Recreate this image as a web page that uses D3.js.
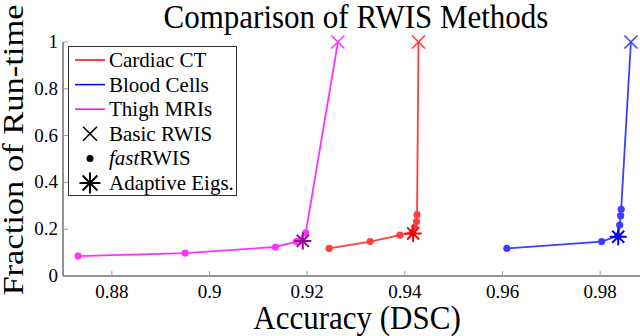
<!DOCTYPE html>
<html><head><meta charset="utf-8">
<script src="https://cdn.jsdelivr.net/npm/d3@7"></script>
<style>body{margin:0;background:#fff}svg{display:block}text{font-family:"Liberation Serif","Times New Roman",serif;fill:#000}</style>
</head><body><svg id="c" width="640" height="336"></svg>
<script>
const xTicks = [0.88, 0.9, 0.92, 0.94, 0.96, 0.98];
const xTickLabels = ["0.88", "0.9", "0.92", "0.94", "0.96", "0.98"];
const yTicks = [0, 0.2, 0.4, 0.6, 0.8, 1];
const yTickLabels = ["0", "0.2", "0.4", "0.6", "0.8", "1"];
const seriesNames = ["Cardiac CT", "Blood Cells", "Thigh MRIs"];
// fastRWIS points (line passes through them), last point = Basic RWIS
const cardiacAcc  = [0.9245, 0.9329, 0.9390, 0.9415, 0.9420, 0.9424, 0.9425, 0.9428];
const cardiacFrac = [0.118, 0.147, 0.175, 0.185, 0.208, 0.233, 0.262, 1.0];
const bloodAcc    = [0.9609, 0.9803, 0.9836, 0.9840, 0.9842, 0.9843, 0.9863];
const bloodFrac   = [0.118, 0.147, 0.172, 0.218, 0.258, 0.285, 1.0];
const thighAcc    = [0.8731, 0.8950, 0.9135, 0.9178, 0.9197, 0.9263];
const thighFrac   = [0.085, 0.098, 0.124, 0.147, 0.184, 1.0];
// Adaptive Eigs. points
const adaptiveAcc  = [0.9417, 0.9837, 0.9191];
const adaptiveFrac = [0.182, 0.168, 0.150];

const lineColors = ["#ff3d3d", "#3d3dff", "#ff33ff"];
const legendColors = ["#ff0000", "#0000ff", "#ff00ff"];
const adaptiveColors = ["#ff0000", "#0000ff", "#990099"];

const svg = d3.select("#c");
const x = d3.scaleLinear().domain([0.87, 0.99]).range([63, 649]);
const y = d3.scaleLinear().domain([0, 1]).range([276, 42]);

const series = [
  {acc: cardiacAcc, frac: cardiacFrac},
  {acc: bloodAcc, frac: bloodFrac},
  {acc: thighAcc, frac: thighFrac}
].map((s, i) => ({pts: s.acc.map((a, j) => [a, s.frac[j]]), color: lineColors[i]}));

// axes
const axisColor = "#262626";
svg.append("line").attr("x1", x(0.87)).attr("x2", x(0.87)).attr("y1", y(1)).attr("y2", y(0)).attr("stroke", axisColor).attr("stroke-width", 1);
svg.append("line").attr("x1", x(0.87)).attr("x2", 640).attr("y1", y(0)).attr("y2", y(0)).attr("stroke", axisColor).attr("stroke-width", 1);
xTicks.forEach((t, i) => {
  svg.append("line").attr("x1", x(t)).attr("x2", x(t)).attr("y1", y(0)).attr("y2", y(0) - 5).attr("stroke", "#999").attr("stroke-width", 1);
  svg.append("text").attr("x", x(t)).attr("y", 298).attr("text-anchor", "middle").attr("font-size", 19).text(xTickLabels[i]);
});
yTicks.forEach((t, i) => {
  svg.append("line").attr("x1", x(0.87)).attr("x2", x(0.87) + 5).attr("y1", y(t)).attr("y2", y(t)).attr("stroke", "#999").attr("stroke-width", 1);
  svg.append("text").attr("x", 58).attr("y", y(t) + 6).attr("text-anchor", "end").attr("font-size", 19).text(yTickLabels[i]);
});

// labels
svg.append("text").attr("transform", "translate(356,28) scale(1,1.1)").attr("text-anchor", "middle").attr("font-size", 31).text("Comparison of RWIS Methods");
svg.append("text").attr("transform", "translate(357,329) scale(1,1.1)").attr("text-anchor", "middle").attr("font-size", 31).text("Accuracy (DSC)");
svg.append("text").attr("transform", "translate(23,150) rotate(-90) scale(1.15,1)").attr("text-anchor", "middle").attr("font-size", 30).text("Fraction of Run-time");

const line = d3.line().x(d => x(d[0])).y(d => y(d[1]));
function crossPath(cx, cy, r) {
  return `M${cx - r},${cy - r}L${cx + r},${cy + r}M${cx - r},${cy + r}L${cx + r},${cy - r}`;
}
function starPath(cx, cy, r) {
  let p = "";
  for (let k = 0; k < 4; k++) {
    const a = k * Math.PI / 4;
    const dx = r * Math.cos(a), dy = r * Math.sin(a);
    p += `M${cx - dx},${cy - dy}L${cx + dx},${cy + dy}`;
  }
  return p;
}

series.forEach(s => {
  svg.append("path").attr("d", line(s.pts)).attr("fill", "none").attr("stroke", s.color).attr("stroke-width", 1.8);
  const last = s.pts[s.pts.length - 1];
  s.pts.slice(0, -1).forEach(p => {
    svg.append("circle").attr("cx", x(p[0])).attr("cy", y(p[1])).attr("r", 3.6).attr("fill", s.color);
  });
  svg.append("path").attr("d", crossPath(x(last[0]), y(last[1]), 6.5)).attr("stroke", s.color).attr("stroke-width", 1.6).attr("fill", "none");
});
adaptiveAcc.forEach((a, i) => {
  svg.append("path").attr("d", starPath(x(a), y(adaptiveFrac[i]), 8.5)).attr("stroke", adaptiveColors[i]).attr("stroke-width", 2).attr("fill", "none");
});

// legend
const lg = svg.append("g");
lg.append("rect").attr("x", 68.5).attr("y", 46.5).attr("width", 168).attr("height", 149).attr("fill", "#fff").attr("stroke", "#333").attr("stroke-width", 1);
const rowY = d3.range(6).map(i => 60 + i * 24.6);
seriesNames.forEach((n, i) => {
  lg.append("line").attr("x1", 75).attr("x2", 105).attr("y1", rowY[i]).attr("y2", rowY[i]).attr("stroke", legendColors[i]).attr("stroke-width", 1.5);
  lg.append("text").attr("x", 109).attr("y", rowY[i] + 7).attr("font-size", 21).text(n);
});
lg.append("path").attr("d", crossPath(90, rowY[3], 7)).attr("stroke", "#000").attr("stroke-width", 1.6).attr("fill", "none");
lg.append("text").attr("x", 109).attr("y", rowY[3] + 7).attr("font-size", 21).text("Basic RWIS");
lg.append("circle").attr("cx", 90).attr("cy", rowY[4]).attr("r", 3.5).attr("fill", "#000");
const ft = lg.append("text").attr("x", 109).attr("y", rowY[4] + 7).attr("font-size", 21);
ft.append("tspan").attr("font-style", "italic").text("fast");
ft.append("tspan").text("RWIS");
lg.append("path").attr("d", starPath(90, rowY[5], 10.5)).attr("stroke", "#000").attr("stroke-width", 2).attr("fill", "none");
lg.append("text").attr("x", 109).attr("y", rowY[5] + 7).attr("font-size", 21).text("Adaptive Eigs.");
</script></body></html>
